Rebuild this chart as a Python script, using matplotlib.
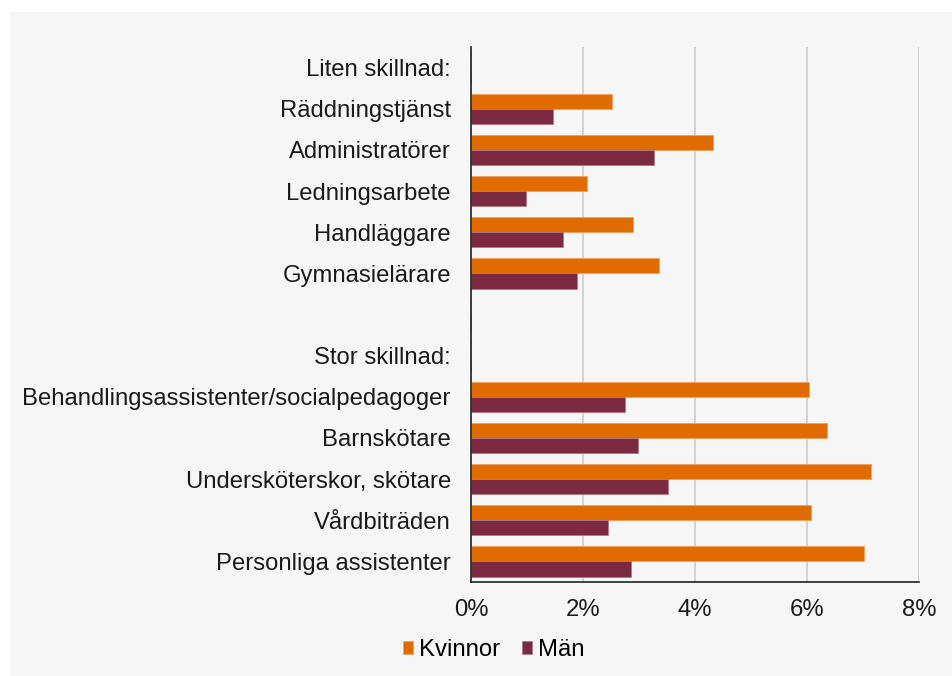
import matplotlib
matplotlib.use("Agg")
import matplotlib.pyplot as plt
import numpy as np
from matplotlib.patches import Rectangle

categories = ["Liten skillnad:", "Räddningstjänst", "Administratörer", "Ledningsarbete",
              "Handläggare", "Gymnasielärare", "", "Stor skillnad:",
              "Behandlingsassistenter/socialpedagoger", "Barnskötare",
              "Undersköterskor, skötare", "Vårdbiträden", "Personliga assistenter"]
kvinnor = [0, 2.52, 4.33, 2.07, 2.89, 3.36, 0, 0, 6.04, 6.36, 7.14, 6.07, 7.01]
man = [0, 1.47, 3.26, 0.99, 1.65, 1.90, 0, 0, 2.75, 2.98, 3.52, 2.45, 2.86]
xticks = [0, 2, 4, 6, 8]
xticklabels = ["0%", "2%", "4%", "6%", "8%"]

plt.rcParams['font.family'] = ['Liberation Sans', 'DejaVu Sans']

W, H = 952, 676
fs = 17.2
fig = plt.figure(figsize=(W / 100, H / 100), dpi=100)
fig.patch.set_facecolor("white")
bg = "#f6f6f6"
fig.add_artist(Rectangle((10 / W, 0), 1 - 10 / W, 1 - 12 / H, transform=fig.transFigure,
                         facecolor=bg, edgecolor="none", zorder=-10))

ax = fig.add_axes([471 / W, 1 - 582 / H, (919 - 471) / W, (582 - 47) / H])
ax.set_facecolor(bg)

n = len(categories)
y = np.arange(n)
bw = 0.37
ax.barh(y - bw / 2, kvinnor, height=bw, color="#E06C00", edgecolor="#f0a060",
        linewidth=0.6, label="Kvinnor", zorder=3)
ax.barh(y + bw / 2, man, height=bw, color="#7B2A42", edgecolor="#b07888",
        linewidth=0.6, label="Män", zorder=3)

ax.set_ylim(n - 0.5, -0.5)
ax.set_xlim(0, 8)
ax.set_yticks(y)
ax.set_yticklabels(categories, fontsize=fs, color="#1a1a1a")
ax.set_xticks(xticks)
ax.set_xticklabels(xticklabels, fontsize=fs, color="#1a1a1a")
ax.tick_params(axis="both", length=0)
ax.tick_params(axis="y", pad=14.5)
ax.tick_params(axis="x", pad=12)
ax.grid(axis="x", color="#cfcfcf", linewidth=1.3, zorder=0)
for s in ["top", "right"]:
    ax.spines[s].set_visible(False)
ax.spines["left"].set_color("#222222")
ax.spines["bottom"].set_color("#222222")
ax.spines["left"].set_linewidth(1.2)
ax.spines["bottom"].set_linewidth(1.2)
ax.spines["left"].set_zorder(5)

leg = fig.legend(loc="center left", bbox_to_anchor=(381 / W, 1 - 650 / H), ncol=2,
                 frameon=False, fontsize=fs, handlelength=0.42, handleheight=0.42,
                 handletextpad=0.25, columnspacing=0.95)

fig.savefig("out.png", dpi=100, facecolor=fig.get_facecolor())
